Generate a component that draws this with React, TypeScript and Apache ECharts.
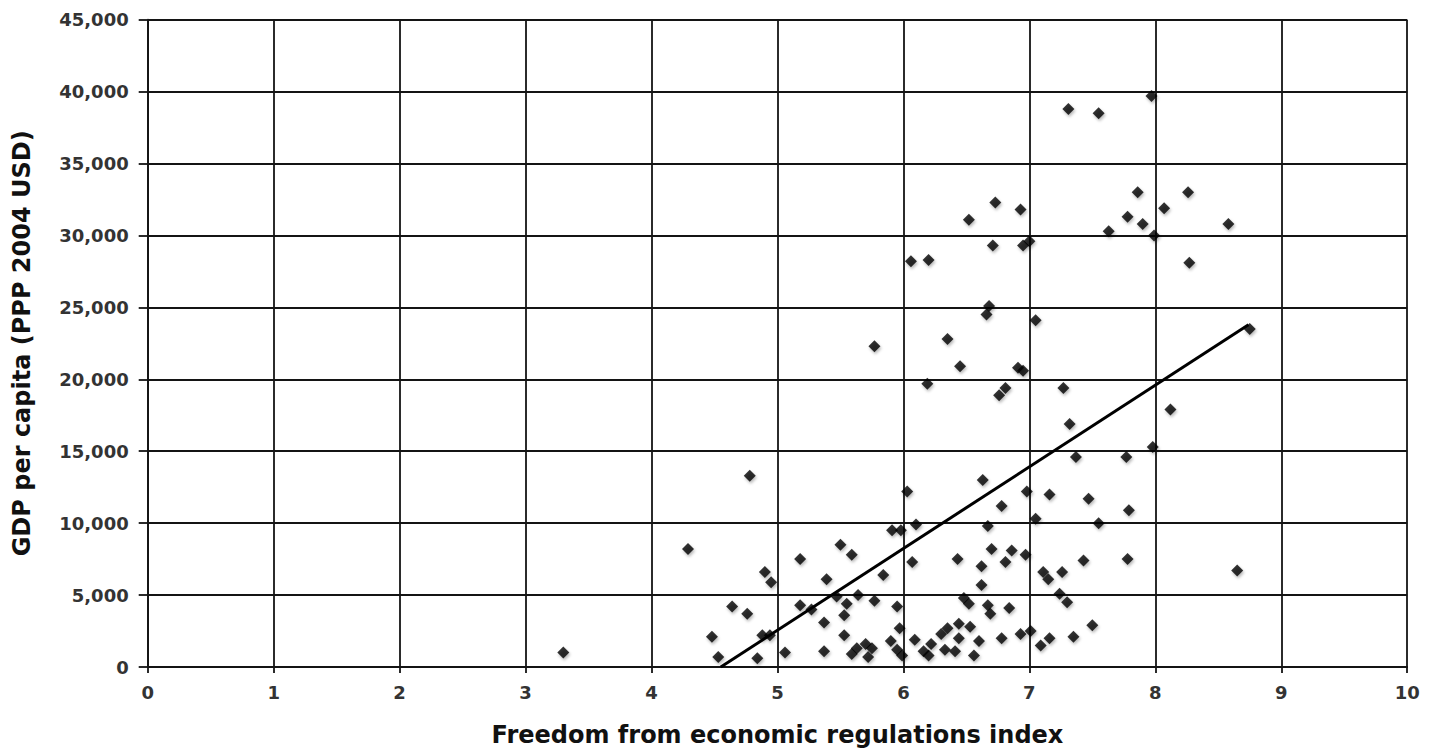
import React, { useEffect, useRef } from "react";
import * as echarts from "echarts";

// Freedom from economic regulations index (x) and GDP per capita (y), one entry per country
const freedomIndex: number[] = [
  3.3, 4.29, 4.78, 4.9, 4.95, 5.18, 5.5, 5.59, 5.39, 4.64,
  4.76, 5.18, 5.27, 5.47, 5.55, 5.64, 5.77, 5.53, 5.37, 5.53,
  4.48, 4.88, 4.94, 4.53, 4.84, 5.06, 5.37, 5.59, 5.63, 5.7,
  5.72, 5.75, 6.03, 6.63, 6.98, 6.78, 7.05, 6.1, 5.91, 5.98,
  6.67, 6.07, 6.43, 6.62, 6.7, 6.81, 6.86, 6.97, 6.62, 5.84,
  5.95, 6.48, 6.52, 6.67, 6.69, 6.84, 5.97, 5.9, 5.95, 5.99,
  6.09, 6.16, 6.2, 6.22, 6.3, 6.35, 6.44, 6.53, 6.44, 6.33,
  6.41, 6.6, 6.56, 6.78, 6.93, 7.01, 7.37, 7.77, 7.98, 7.16,
  7.47, 7.79, 7.55, 7.43, 7.78, 7.11, 7.15, 7.26, 7.24, 7.3,
  7.5, 7.16, 7.09, 7.35, 8.65, 7.27, 8.12, 7.32, 7.31, 7.55,
  7.97, 7.86, 8.26, 8.07, 7.78, 7.9, 7.63, 7.99, 8.58, 8.27,
  8.75, 6.73, 6.93, 6.52, 6.71, 6.95, 7.0, 6.06, 6.2, 6.68,
  6.66, 7.05, 5.77, 6.35, 6.45, 6.91, 6.95, 6.19, 6.81, 6.76,
];

const gdpPerCapita: number[] = [
  1000, 8200, 13300, 6600, 5900, 7500, 8500, 7800, 6100, 4200,
  3700, 4300, 4000, 4900, 4400, 5000, 4600, 3600, 3100, 2200,
  2100, 2200, 2200, 700, 600, 1000, 1100, 900, 1300, 1600,
  700, 1300, 12200, 13000, 12200, 11200, 10300, 9900, 9500, 9500,
  9800, 7300, 7500, 7000, 8200, 7300, 8100, 7800, 5700, 6400,
  4200, 4800, 4400, 4300, 3700, 4100, 2700, 1800, 1200, 800,
  1900, 1100, 800, 1600, 2300, 2700, 3000, 2800, 2000, 1200,
  1100, 1800, 800, 2000, 2300, 2500, 14600, 14600, 15300, 12000,
  11700, 10900, 10000, 7400, 7500, 6600, 6100, 6600, 5100, 4500,
  2900, 2000, 1500, 2100, 6700, 19400, 17900, 16900, 38800, 38500,
  39700, 33000, 33000, 31900, 31300, 30800, 30300, 30000, 30800, 28100,
  23500, 32300, 31800, 31100, 29300, 29300, 29600, 28200, 28300, 25100,
  24500, 24100, 22300, 22800, 20900, 20800, 20600, 19700, 19400, 18900,
];

// Linear trend line end points
const trendX: number[] = [4.55, 8.74];
const trendY: number[] = [0, 23800];

const xTitle = "Freedom from economic regulations index";
const yTitle = "GDP per capita (PPP 2004 USD)";

const FONT = "DejaVu Sans, Verdana, sans-serif";
const GRID_COLOR = "#141414";

export default function App() {
  const ref = useRef<HTMLDivElement>(null);

  useEffect(() => {
    if (!ref.current) return;
    const chart = echarts.init(ref.current, null, { renderer: "svg" });

    const points = freedomIndex.map((x, i) => [x, gdpPerCapita[i]]);
    const trend = trendX.map((x, i) => [x, trendY[i]]);

    chart.setOption({
      animation: false,
      backgroundColor: "#ffffff",
      grid: { left: 147.7, right: 30.8, top: 19.7, bottom: 83.3, containLabel: false },
      xAxis: {
        type: "value",
        min: 0,
        max: 10,
        interval: 1,
        name: xTitle,
        nameLocation: "middle",
        nameGap: 56,
        nameTextStyle: { fontFamily: FONT, fontSize: 24, fontWeight: "bold", color: "#111" },
        axisLine: { onZero: false, lineStyle: { color: GRID_COLOR, width: 1.8 } },
        axisTick: { show: true, length: 6, lineStyle: { color: GRID_COLOR, width: 1.8 } },
        axisLabel: { fontFamily: FONT, fontSize: 18, fontWeight: "bold", color: "#333", margin: 16 },
        splitLine: { show: true, lineStyle: { color: GRID_COLOR, width: 1.8 } },
      },
      yAxis: {
        type: "value",
        min: 0,
        max: 45000,
        interval: 5000,
        name: yTitle,
        nameLocation: "middle",
        nameGap: 114,
        nameTextStyle: { fontFamily: FONT, fontSize: 24, fontWeight: "bold", color: "#111" },
        axisLine: { show: true, lineStyle: { color: GRID_COLOR, width: 1.8 } },
        axisTick: { show: true, length: 9, lineStyle: { color: GRID_COLOR, width: 1.8 } },
        axisLabel: {
          fontFamily: FONT,
          fontSize: 18,
          fontWeight: "bold",
          color: "#333",
          margin: 19,
          formatter: (v: number) => v.toLocaleString("en-US"),
        },
        splitLine: { show: true, lineStyle: { color: GRID_COLOR, width: 1.8 } },
      },
      series: [
        {
          type: "scatter",
          data: points,
          symbol: "diamond",
          symbolSize: 12,
          itemStyle: {
            color: "#000",
            shadowColor: "rgba(0,0,0,0.35)",
            shadowBlur: 3,
            shadowOffsetX: 1,
            shadowOffsetY: 2,
          },
          z: 3,
        },
        {
          type: "line",
          data: trend,
          symbol: "none",
          lineStyle: { color: "#000", width: 3 },
          z: 4,
        },
      ],
    });

    return () => chart.dispose();
  }, []);

  return (
    <div
      ref={ref}
      style={{ position: "fixed", left: 0, top: 0, width: 1438, height: 752 }}
    />
  );
}
